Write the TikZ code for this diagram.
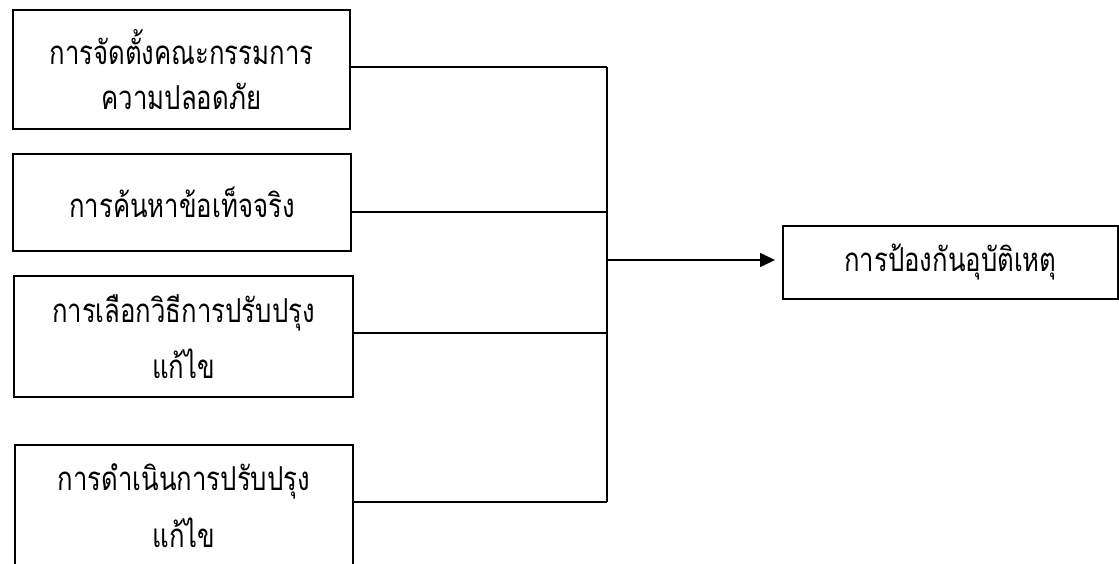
\documentclass[tikz,border=0pt]{standalone}
\usepackage{fontspec}
\newfontfamily\thaifont[Script=Thai, FakeStretch=0.78]{Loma}
\usetikzlibrary{arrows.meta}
\begin{document}
\begin{tikzpicture}[x=1pt,y=-1pt,
  box/.style={draw, line width=1.8pt, inner sep=0pt, anchor=north west, align=center},
  conn/.style={line width=1.6pt},
  arr/.style={line width=1.6pt, -{Triangle[length=15pt,width=14pt]}, shorten >=7pt}]
\path[use as bounding box] (0,0) rectangle (1119,563);
\clip (0,0) rectangle (1119,563);
\node[box, minimum width=337pt, minimum height=119pt, font=\thaifont\fontsize{33}{45}\selectfont] (b1) at (12,9) {การจัดตั้งคณะกรรมการ\\ความปลอดภัย};
\node[box, minimum width=338pt, minimum height=97pt, font=\thaifont\fontsize{33}{45}\selectfont] (b2) at (12,153) {การค้นหาข้อเท็จจริง};
\node[box, minimum width=339pt, minimum height=121pt, font=\thaifont\fontsize{33}{56}\selectfont] (b3) at (13,275) {การเลือกวิธีการปรับปรุง\\แก้ไข};
\node[box, minimum width=338pt, minimum height=122pt, font=\thaifont\fontsize{33}{57}\selectfont] (b4) at (14,444) {การดำเนินการปรับปรุง\\แก้ไข};
\node[box, minimum width=335pt, minimum height=73pt, font=\thaifont\fontsize{33}{45}\selectfont] (t) at (782,225) {การป้องกันอุบัติเหตุ};
\coordinate (j1) at (607,67);
\coordinate (j2) at (607,212);
\coordinate (ja) at (607,260);
\coordinate (j3) at (607,333);
\coordinate (j4) at (607,502);
\draw[conn] (b1.east |- j1) -- (j1);
\draw[conn] (b2.east |- j2) -- (j2);
\draw[conn] (b3.east |- j3) -- (j3);
\draw[conn] (b4.east |- j4) -- (j4);
\draw[conn] (j1) -- (j4);
\draw[arr] (ja) -- (ja -| t.west);
\end{tikzpicture}
\end{document}
